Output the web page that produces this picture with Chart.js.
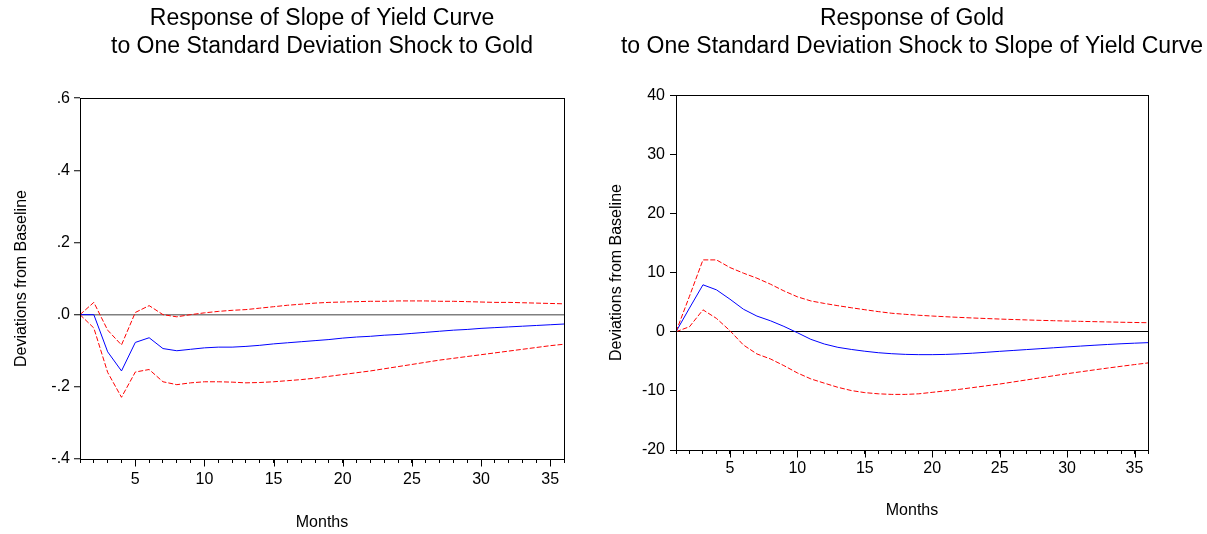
<!DOCTYPE html>
<html>
<head>
<meta charset="utf-8">
<script src="https://cdn.jsdelivr.net/npm/chart.js@4.4.0/dist/chart.umd.min.js"></script>
<style>
  html, body { margin: 0; padding: 0; background: #fff; overflow: hidden; }
  body { width: 1207px; height: 534px; position: relative; }
  canvas { position: absolute; top: 0; }
  #leftChart { left: 0; }
  #rightChart { left: 600px; }
</style>
</head>
<body>
<canvas id="leftChart" width="644" height="534"></canvas>
<canvas id="rightChart" width="624" height="534"></canvas>
<script>
// Dados
const months = [1, 2, 3, 4, 5, 6, 7, 8, 9, 10, 11, 12, 13, 14, 15, 16, 17, 18,
  19, 20, 21, 22, 23, 24, 25, 26, 27, 28, 29, 30, 31, 32, 33, 34, 35, 36];

// Resposta da inclinação da curva de juros a um choque no ouro
const slopeResp = [0, 0, -0.103, -0.156, -0.077, -0.064, -0.094, -0.100, -0.096, -0.092,
  -0.090, -0.090, -0.088, -0.085, -0.081, -0.078, -0.075, -0.072, -0.069, -0.065,
  -0.062, -0.060, -0.057, -0.055, -0.052, -0.049, -0.046, -0.043, -0.041, -0.038,
  -0.036, -0.034, -0.032, -0.030, -0.028, -0.026];
const slopeUpper = [0, 0.034, -0.043, -0.084, 0.006, 0.025, 0.000, -0.006, 0.000, 0.005,
  0.009, 0.012, 0.014, 0.018, 0.022, 0.026, 0.029, 0.032, 0.034, 0.035,
  0.036, 0.037, 0.037, 0.038, 0.038, 0.038, 0.037, 0.037, 0.036, 0.035,
  0.034, 0.034, 0.033, 0.032, 0.031, 0.030];
const slopeLower = [0, -0.037, -0.160, -0.229, -0.159, -0.152, -0.186, -0.194, -0.189, -0.186,
  -0.186, -0.187, -0.189, -0.188, -0.186, -0.183, -0.180, -0.176, -0.171, -0.166,
  -0.161, -0.156, -0.150, -0.144, -0.138, -0.132, -0.126, -0.121, -0.116, -0.111,
  -0.106, -0.101, -0.096, -0.091, -0.086, -0.082];

// Resposta do ouro a um choque na inclinação da curva de juros
const goldResp = [0, 4.0, 7.93, 7.08, 5.5, 3.8, 2.64, 1.85, 0.9, -0.17,
  -1.29, -2.08, -2.64, -3.0, -3.3, -3.55, -3.72, -3.83, -3.88, -3.88,
  -3.84, -3.75, -3.63, -3.48, -3.32, -3.17, -3.02, -2.87, -2.72, -2.57,
  -2.43, -2.29, -2.16, -2.04, -1.94, -1.85];
const goldUpper = [0, 6.0, 12.14, 12.14, 10.85, 9.9, 9.05, 8.04, 6.9, 5.9,
  5.2, 4.78, 4.4, 4.05, 3.72, 3.4, 3.12, 2.94, 2.78, 2.65,
  2.53, 2.42, 2.32, 2.23, 2.14, 2.06, 1.99, 1.92, 1.86, 1.80,
  1.75, 1.70, 1.65, 1.60, 1.56, 1.52];
const goldLower = [0, 0.84, 3.7, 2.25, 0.17, -2.25, -3.76, -4.6, -5.73, -6.97,
  -7.98, -8.7, -9.4, -9.95, -10.3, -10.5, -10.6, -10.6, -10.5, -10.25,
  -10.0, -9.75, -9.45, -9.15, -8.85, -8.5, -8.15, -7.8, -7.45, -7.1,
  -6.78, -6.46, -6.15, -5.85, -5.56, -5.28];

const FONT = "'Liberation Sans', Arial, sans-serif";

// moldura do gráfico + ticks maiores a cada 5 meses
const framePlugin = {
  id: "frame",
  afterDraw(chart) {
    const { ctx, chartArea: a, scales: { x } } = chart;
    const l = Math.round(a.left) + 0.5, t = Math.round(a.top) + 0.5;
    const r = Math.round(a.right) + 0.5, b = Math.round(a.bottom) + 0.5;
    ctx.save();
    ctx.strokeStyle = "#000";
    ctx.lineWidth = 1;
    ctx.strokeRect(l, t, r - l, b - t);
    x.ticks.forEach((tk) => {
      if (tk.value % 5 === 0) {
        const px = Math.round(x.getPixelForValue(tk.value)) + 0.5;
        ctx.beginPath();
        ctx.moveTo(px, b);
        ctx.lineTo(px, b + 7);
        ctx.stroke();
      }
    });
    ctx.restore();
  },
};

function series(values, color, dash) {
  return {
    data: months.map((m, i) => ({ x: m, y: values[i] })),
    borderColor: color,
    borderWidth: 1,
    borderDash: dash,
    pointRadius: 0,
    tension: 0,
    fill: false,
  };
}

// Função para criar gráfico usando Chart.js
function createChart(canvasId, cfg) {
  const ctx = document.getElementById(canvasId).getContext("2d");
  return new Chart(ctx, {
    type: "line",
    data: {
      datasets: [
        series(cfg.upper, "#ff0000", [5, 2]),
        series(cfg.lower, "#ff0000", [5, 2]),
        series(cfg.resp, "#0000ff", []),
      ],
    },
    options: {
      responsive: false,
      animation: false,
      layout: { padding: 0 },
      plugins: {
        legend: { display: false },
        tooltip: { enabled: false },
        title: {
          display: true,
          text: cfg.title,
          color: "#000",
          font: { family: FONT, size: 23, weight: "normal", lineHeight: 1.22 },
          padding: { top: 5, bottom: cfg.titleGap },
        },
      },
      scales: {
        x: {
          type: "linear",
          min: 1,
          max: 36,
          afterFit: (s) => { s.height = cfg.xHeight; },
          border: { display: false },
          grid: { drawOnChartArea: false, tickLength: 4, tickColor: "#000", color: "#000" },
          ticks: {
            stepSize: 1,
            autoSkip: false,
            maxRotation: 0,
            padding: cfg.xPad,
            color: "#000",
            font: { family: FONT, size: 16 },
            callback: (v) => (v % 5 === 0 ? String(v) : ""),
          },
          title: {
            display: true,
            text: "Months",
            color: "#000",
            font: { family: FONT, size: 16 },
            padding: { top: 0, bottom: cfg.monthsPad },
          },
        },
        y: {
          min: cfg.yMin,
          max: cfg.yMax,
          afterFit: (s) => { s.width = cfg.yWidth; },
          border: { display: false },
          grid: {
            tickLength: 6,
            tickColor: "#000",
            tickWidth: 1,
            lineWidth: cfg.zeroWidth,
            color: (c) => (c.tick && Math.abs(c.tick.value) < 1e-9 ? cfg.zeroColor : "rgba(0,0,0,0)"),
          },
          ticks: {
            stepSize: cfg.yStep,
            padding: cfg.yPad,
            color: "#000",
            font: { family: FONT, size: 16 },
            callback: cfg.fmt,
          },
          title: {
            display: true,
            text: "Deviations from Baseline",
            color: "#000",
            font: { family: FONT, size: 16 },
            padding: { top: cfg.yTitlePad, bottom: 0 },
          },
        },
        // eixo vazio à direita, só para centralizar o título sobre o gráfico
        yRight: {
          position: "right",
          afterFit: (s) => { s.width = cfg.yWidth; },
          border: { display: false },
          grid: { display: false },
          ticks: { display: false },
        },
      },
    },
    plugins: [framePlugin],
  });
}

createChart("leftChart", {
  title: ["Response of Slope of Yield Curve", "to One Standard Deviation Shock to Gold"],
  resp: slopeResp, upper: slopeUpper, lower: slopeLower,
  yMin: -0.4, yMax: 0.6, yStep: 0.2,
  fmt: (v) => v.toFixed(1).replace("0.", "."),
  zeroColor: "#808080", zeroWidth: 1.5,
  yWidth: 80, xHeight: 75, titleGap: 37,
  xPad: 7, monthsPad: 2, yPad: 4, yTitlePad: 12,
});

createChart("rightChart", {
  title: ["Response of Gold", "to One Standard Deviation Shock to Slope of Yield Curve"],
  resp: goldResp, upper: goldUpper, lower: goldLower,
  yMin: -20, yMax: 40, yStep: 10,
  fmt: (v) => String(Math.round(v)),
  zeroColor: "#000", zeroWidth: 1,
  yWidth: 76, xHeight: 84, titleGap: 34,
  xPad: 5, monthsPad: 14, yPad: 5, yTitlePad: 7,
});
</script>
</body>
</html>
